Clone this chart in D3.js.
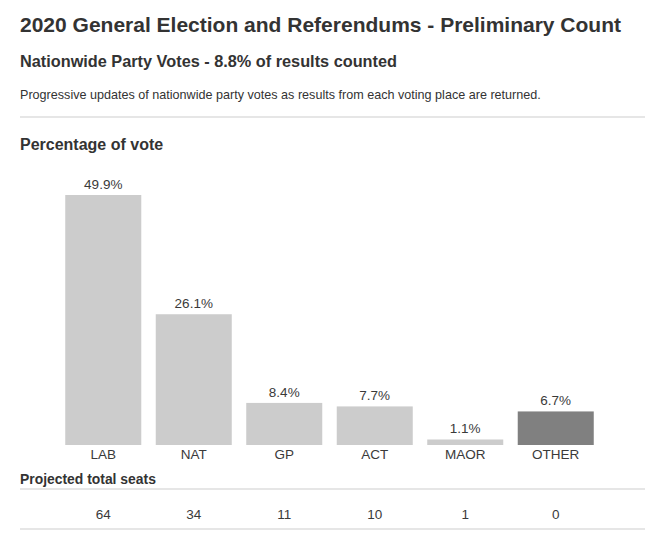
<html>
<head>
  <meta charset="utf-8">
  <title>2020 General Election - Preliminary Count</title>
  <style>
    body { margin: 0; background: #fff; }
    text { font-family: "Liberation Sans", Arial, sans-serif; fill: #333; }
    .title { font-size: 21px; font-weight: bold; }
    .sub { font-size: 16.3px; font-weight: bold; }
    .desc { font-size: 12.6px; }
    .head { font-size: 16px; font-weight: bold; }
    .small-head { font-size: 13.9px; font-weight: bold; }
    .val, .cat, .seat { font-size: 13.5px; text-anchor: middle; fill: #3a3a3a; }
    .rule { stroke: #e6e6e6; stroke-width: 2; }
  </style>
</head>
<body>
<script src="https://cdn.jsdelivr.net/npm/d3@7"></script>
<script>
  // data
  var parties = ["LAB", "NAT", "GP", "ACT", "MAOR", "OTHER"];
  var votePct = [49.9, 26.1, 8.4, 7.7, 1.1, 6.7];
  var seats = [64, 34, 11, 10, 1, 0];
  var barColors = ["#cccccc", "#cccccc", "#cccccc", "#cccccc", "#cccccc", "#808080"];

  var width = 645, height = 539;
  var svg = d3.select("body").append("svg")
      .attr("width", width)
      .attr("height", height);

  // headings
  svg.append("text").attr("class", "title").attr("x", 20).attr("y", 32)
     .text("2020 General Election and Referendums - Preliminary Count");
  svg.append("text").attr("class", "sub").attr("x", 20).attr("y", 67)
     .text("Nationwide Party Votes - 8.8% of results counted");
  svg.append("text").attr("class", "desc").attr("x", 20).attr("y", 99)
     .text("Progressive updates of nationwide party votes as results from each voting place are returned.");
  svg.append("line").attr("class", "rule").attr("x1", 20).attr("x2", width).attr("y1", 117).attr("y2", 117);
  svg.append("text").attr("class", "head").attr("x", 20).attr("y", 150)
     .text("Percentage of vote");

  // scales
  var x = d3.scaleBand()
      .domain(parties)
      .range([20, 639])
      .paddingInner(0.16)
      .paddingOuter(0.5);
  var y = d3.scaleLinear()
      .domain([0, d3.max(votePct)])
      .range([445, 195]);

  var gBars = svg.append("g");
  gBars.selectAll("rect")
      .data(parties)
      .enter()
      .append("rect")
      .attr("x", function(d) { return x(d); })
      .attr("width", x.bandwidth())
      .attr("y", function(d, i) { return y(votePct[i]); })
      .attr("height", function(d, i) { return y(0) - y(votePct[i]); })
      .style("fill", function(d, i) { return barColors[i]; });

  gBars.selectAll(".val")
      .data(parties)
      .enter()
      .append("text")
      .attr("class", "val")
      .attr("x", function(d) { return x(d) + x.bandwidth() / 2; })
      .attr("y", function(d, i) { return y(votePct[i]) - 6; })
      .text(function(d, i) { return votePct[i] + "%"; });

  gBars.selectAll(".cat")
      .data(parties)
      .enter()
      .append("text")
      .attr("class", "cat")
      .attr("x", function(d) { return x(d) + x.bandwidth() / 2; })
      .attr("y", 459)
      .text(function(d) { return d; });

  // seats table
  svg.append("text").attr("class", "small-head").attr("x", 20).attr("y", 484)
     .text("Projected total seats");
  svg.append("line").attr("class", "rule").attr("x1", 20).attr("x2", width).attr("y1", 489).attr("y2", 489);
  svg.selectAll(".seat")
      .data(parties)
      .enter()
      .append("text")
      .attr("class", "seat")
      .attr("x", function(d) { return x(d) + x.bandwidth() / 2; })
      .attr("y", 519)
      .text(function(d, i) { return seats[i]; });
  svg.append("line").attr("class", "rule").attr("x1", 20).attr("x2", width).attr("y1", 529).attr("y2", 529);
</script>
</body>
</html>
